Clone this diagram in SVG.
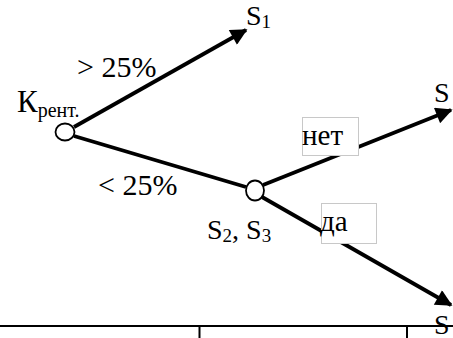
<svg xmlns="http://www.w3.org/2000/svg" width="453" height="338" viewBox="0 0 453 338">
<defs>
<style>
text{font-family:"Liberation Serif","Times New Roman",serif;fill:#000}
.edge{stroke:#000;stroke-width:3.8;fill:none}
.node{fill:#fff;stroke:#000;stroke-width:1.8}
.box{fill:#fff;stroke:#c8c8c8;stroke-width:1}
.rule{stroke:#000;stroke-width:2;fill:none}
</style>
<marker id="ah" viewBox="0 0 10 10" refX="9" refY="5" markerWidth="5.5" markerHeight="4.4" orient="auto" markerUnits="strokeWidth">
<path d="M0,0 L10,5 L0,10 z" fill="#000"/>
</marker>
</defs>
<rect width="453" height="338" fill="#fff"/>
<g id="connectors">
<line class="edge" x1="74" y1="127" x2="246" y2="30" marker-end="url(#ah)"/>
<line class="edge" x1="74" y1="136" x2="246" y2="187"/>
<line class="edge" x1="263" y1="185" x2="451" y2="110" marker-end="url(#ah)"/>
<line class="edge" x1="262" y1="197" x2="451" y2="305" marker-end="url(#ah)"/>
</g>
<g id="label-gt"><text x="77" y="77" font-size="30">&gt; 25%</text></g>
<g id="label-lt"><text x="98" y="195" font-size="30">&lt; 25%</text></g>
<g id="node-k">
<ellipse class="node" cx="65" cy="132" rx="9.5" ry="8.5"/>
<text x="17" y="112" font-size="31">К<tspan font-size="20" dy="5">рент.</tspan></text>
</g>
<g id="node-s23">
<ellipse class="node" cx="255" cy="190.5" rx="9" ry="10"/>
<text x="207" y="239" font-size="28">S<tspan font-size="19" dy="3">2</tspan><tspan dy="-3">, S</tspan><tspan font-size="19" dy="3">3</tspan></text>
</g>
<g id="node-s1"><text x="246" y="25" font-size="28">S<tspan font-size="19" dy="3">1</tspan></text></g>
<g id="node-s4"><text x="434" y="102" font-size="28">S</text></g>
<g id="node-s5"><text x="434" y="334" font-size="28">S</text></g>
<g id="label-net">
<rect class="box" x="302.5" y="117.5" width="56" height="38"/>
<text x="302" y="145" font-size="29">нет</text>
</g>
<g id="label-da">
<rect class="box" x="321.5" y="203.5" width="55" height="40"/>
<text x="320" y="231" font-size="29">да</text>
</g>
<g id="rule">
<line class="rule" x1="0" y1="326" x2="453" y2="326"/>
<line class="rule" x1="199.5" y1="326" x2="199.5" y2="338"/>
<line class="rule" x1="407" y1="326" x2="407" y2="338"/>
</g>
</svg>
